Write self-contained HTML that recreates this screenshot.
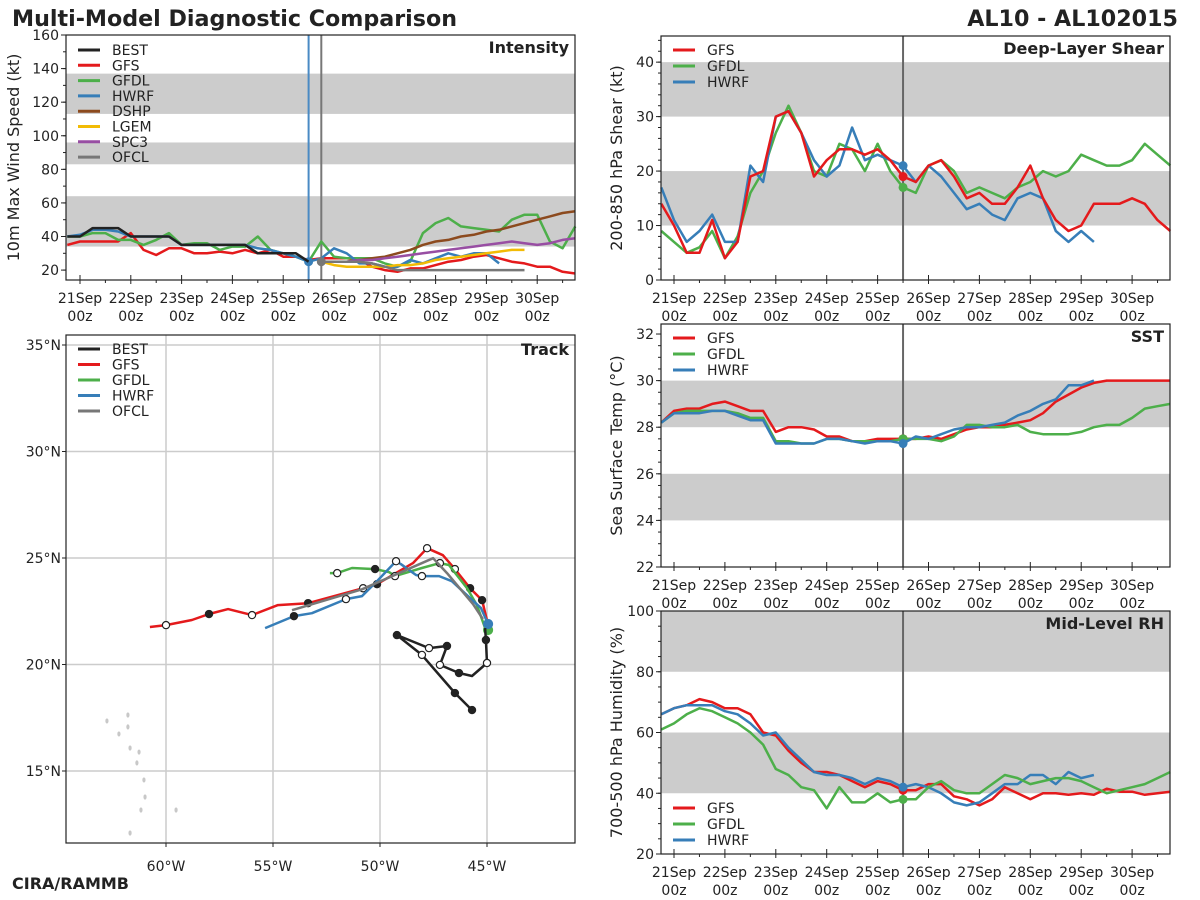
<!DOCTYPE html>
<html><head><meta charset="utf-8"><style>
body{margin:0;background:#fff;}
svg{display:block;font-family:"DejaVu Sans","Liberation Sans",sans-serif;}
</style></head><body>
<svg id="chart" width="1200" height="900" viewBox="0 0 1200 900" xmlns="http://www.w3.org/2000/svg">
<text x="12" y="26" font-size="22.2" font-weight="bold" fill="#222">Multi-Model Diagnostic Comparison</text>
<text x="1178" y="26" font-size="22.2" font-weight="bold" fill="#222" text-anchor="end">AL10 - AL102015</text>
<text x="12" y="889" font-size="16" font-weight="bold" fill="#222">CIRA/RAMMB</text>
</svg>
<script>
// ---------- data ----------
const dayLabels = ["21Sep","22Sep","23Sep","24Sep","25Sep","26Sep","27Sep","28Sep","29Sep","30Sep"];
const intTicks = [20,40,60,80,100,120,140,160];
const intBest = [40,40,45,45,45,40,40,40,40,35,35,35,35,35,35,30,30,30,30,25];
const intGfs = [35,37,37,37,37,42,32,29,33,33,30,30,31,30,32,30,32,28,28,26,27,27,27,26,22,20,19,21,21,23,25,26,28,29,27,25,24,22,22,19,18];
const intGfdl = [40,40,42,42,38,38,35,38,42,35,36,36,32,34,34,40,32,30,28,25,37,28,27,27,27,24,22,25,42,48,51,46,45,44,43,50,53,53,37,33,46];
const intHwrf = [40,41,44,44,43,40,40,40,40,35,35,35,35,35,35,33,32,30,28,25,27,33,30,24,24,22,22,26,24,27,30,28,30,30,24];
const intDshp = [25,25,25,26,27,28,30,32,35,37,38,40,41,43,44,46,48,50,52,54,55];
const intLgem = [25,23,22,22,22,22,23,23,24,26,27,28,29,30,31,32,32];
const intSpc3 = [25,25,25,26,26,27,28,29,30,31,32,33,34,35,36,37,36,35,36,38,39];
const intOfcl = [25,25,25,25,24,22,20,20,20,20,20,20,20,20,20,20,20];
const shrTicks = [0,10,20,30,40];
const shrGfs = [14,10,5,5,11,4,7,19,20,30,31,27,19,22,24,24,23,24,22,19,18,21,22,19,15,16,14,14,17,21,15,11,9,10,14,14,14,15,14,11,9];
const shrGfdl = [9,7,5,6,9,4,8,16,20,27,32,27,20,19,25,24,20,25,20,17,16,21,22,20,16,17,16,15,17,18,20,19,20,23,22,21,21,22,25,23,21];
const shrHwrf = [17,11,7,9,12,7,7,21,18,30,31,27,22,19,21,28,22,23,22,21,18,21,19,16,13,14,12,11,15,16,15,9,7,9,7];
const sstTicks = [22,24,26,28,30,32];
const sstGfs = [28.2,28.7,28.8,28.8,29.0,29.1,28.9,28.7,28.7,27.8,28.0,28.0,27.9,27.6,27.6,27.4,27.4,27.5,27.5,27.5,27.5,27.6,27.5,27.7,27.9,28.0,28.0,28.1,28.2,28.3,28.6,29.1,29.4,29.7,29.9,30.0,30.0,30.0,30.0,30.0,30.0];
const sstGfdl = [28.2,28.6,28.7,28.7,28.7,28.7,28.6,28.4,28.4,27.4,27.4,27.3,27.3,27.5,27.5,27.4,27.4,27.4,27.4,27.5,27.5,27.5,27.4,27.6,28.1,28.1,28.0,28.0,28.1,27.8,27.7,27.7,27.7,27.8,28.0,28.1,28.1,28.4,28.8,28.9,29.0];
const sstHwrf = [28.2,28.6,28.6,28.6,28.7,28.7,28.5,28.3,28.3,27.3,27.3,27.3,27.3,27.5,27.5,27.4,27.3,27.4,27.4,27.3,27.6,27.5,27.7,27.9,28.0,28.0,28.1,28.2,28.5,28.7,29.0,29.2,29.8,29.8,30.0];
const rhTicks = [20,40,60,80,100];
const rhGfs = [66,68,69,71,70,68,68,66,60,59,54,50,47,47,46,44,42,44,43,41,41,43,43,39,38,36,38,42,40,38,40,40,39.5,40,39.5,41.5,40.5,40.5,39.5,40,40.5];
const rhGfdl = [61,63,66,68,67,65,63,60,56,48,46,42,41,35,42,37,37,40,37,38,38,42,44,41,40,40,43,46,45,43,44,45,45,44,42,40,41,42,43,45,47];
const rhHwrf = [66,68,69,69,69,67,66,63,59,60,55,51,47,46,46,45,43,45,44,42,43,42,40,37,36,37,40,43,43,46,46,43,47,45,46];
const lonTicks = [-60,-55,-50,-45];
const latTicks = [15,20,25,30,35];
const trkBestLon = [-45.70,-46.50,-48.04,-49.21,-47.71,-46.87,-47.20,-46.31,-45.70,-45.00,-45.05,-45.09];
const trkBestLat = [17.86,18.66,20.45,21.38,20.77,20.87,19.98,19.60,19.46,20.07,21.15,21.71];
const trkBestMk = [1,1,2,1,2,1,2,1,0,2,1,0];
const trkGfsLon = [-60.75,-60.0,-58.79,-57.99,-57.1,-55.98,-54.77,-53.36,-50.79,-50.14,-48.46,-47.8,-47.06,-46.5,-45.79,-45.23,-44.95];
const trkGfsLat = [21.76,21.85,22.09,22.37,22.6,22.32,22.79,22.88,23.58,23.77,24.76,25.46,25.13,24.48,23.58,23.02,21.85];
const trkGfsMk = [0,2,0,1,0,2,0,1,2,1,0,2,0,2,1,1,0];
const trkGfdlLon = [-52.34,-52.0,-51.31,-50.23,-49.58,-49.3,-48.04,-47.2,-46.78,-45.93,-45.47,-45.09,-44.95];
const trkGfdlLat = [24.29,24.29,24.53,24.48,24.34,24.15,24.53,24.76,24.67,23.58,22.79,21.71,21.62];
const trkGfdlMk = [0,2,0,1,0,2,0,2,0,0,0,0,3];
const trkHwrfLon = [-55.37,-54.02,-53.18,-51.59,-50.84,-50.19,-49.25,-49.02,-48.32,-48.04,-47.24,-46.64,-45.93,-45.28,-44.95];
const trkHwrfLat = [21.71,22.27,22.41,23.07,23.21,23.86,24.85,24.71,24.20,24.15,24.15,23.91,23.25,22.65,21.90];
const trkHwrfMk = [0,1,0,2,0,0,2,0,0,2,0,0,0,0,3];
const trkOfclLon = [-54.11,-50.84,-47.52,-46.87,-45.65,-45.19];
const trkOfclLat = [22.55,23.53,24.99,24.29,22.83,22.13];
const islandLon = [-62.76,-61.78,-61.78,-62.2,-61.68,-61.26,-61.36,-61.03,-60.98,-61.17,-61.68,-59.53];
const islandLat = [17.35,17.63,17.07,16.74,16.08,15.89,15.38,14.58,13.78,13.17,12.09,13.17];

// ---------- helpers ----------
const NS = "http://www.w3.org/2000/svg";
const svg = document.getElementById('chart');
function el(tag, attrs, parent){ const e=document.createElementNS(NS,tag); for(const k in attrs) e.setAttribute(k,attrs[k]); (parent||svg).appendChild(e); return e; }
function txt(x,y,s,size,attrs){ const t=el('text',Object.assign({x:x,y:y,'font-size':size,fill:'#222'},attrs||{})); t.textContent=s; return t; }
const C = {best:'#222222',gfs:'#e41a1c',gfdl:'#4daf4a',hwrf:'#377eb8',dshp:'#8c4a1e',lgem:'#f2bb05',spc3:'#984ea3',ofcl:'#777777'};

function timePanel(p){
  const g = el('g',{});
  
  
  const sx = t => p.day0x + t*p.dayW;
  const sy = v => p.y1 - (v-p.ymin)/(p.ymax-p.ymin)*(p.y1-p.y0);
  el('rect',{x:p.x0,y:p.y0,width:p.x1-p.x0,height:p.y1-p.y0,fill:'#fff'},g);
  p.bands.forEach(b=>{ const r=el('rect',{x:p.x0,y:sy(b[1]),width:p.x1-p.x0,height:sy(b[0])-sy(b[1]),fill:'#cccccc'},g);
      });
  (p.vlines||[]).forEach(v=>{ const l=el('line',{x1:sx(v[0]),x2:sx(v[0]),y1:p.y0,y2:p.y1,stroke:v[1],'stroke-width':2},g);
      });
  p.series.forEach(s=>{
    const pts = s.v.map((v,i)=>sx(s.t0+i*0.25).toFixed(1)+','+sy(v).toFixed(1)).join(' ');
    const pl=el('polyline',{points:pts,fill:'none',stroke:s.c,'stroke-width':2.5,'stroke-linejoin':'round'},g);
     
    if(s.dot!==undefined){ const i=s.dot; const d=el('circle',{cx:sx(s.t0+i*0.25),cy:sy(s.v[i]),r:4.5,fill:s.c},g);
        }
  });
  el('rect',{x:p.x0,y:p.y0,width:p.x1-p.x0,height:p.y1-p.y0,fill:'none',stroke:'#222','stroke-width':1.2},g);
  p.ticks.forEach(v=>{ el('line',{x1:p.x0,x2:p.x0-5,y1:sy(v),y2:sy(v),stroke:'#222'},g);
    const t=txt(p.x0-7,sy(v)+5,String(v),14,{'text-anchor':'end'}); g.appendChild(t);
      });
  for(let v=Math.ceil(p.ymin/p.minor)*p.minor; v<=p.ymax; v+=p.minor){ el('line',{x1:p.x0,x2:p.x0-3,y1:sy(v),y2:sy(v),stroke:'#222'},g); }
  dayLabels.forEach((d,i)=>{ const x=sx(i); el('line',{x1:x,x2:x,y1:p.y1,y2:p.y1-5,stroke:'#222'},g); el('line',{x1:x,x2:x,y1:p.y1,y2:p.y1+4,stroke:'#222'},g);
    const a=txt(x,p.y1+23,d,14,{'text-anchor':'middle'}); g.appendChild(a);  
    const b=txt(x,p.y1+41,'00z',14,{'text-anchor':'middle'}); g.appendChild(b);   });
  for(let t=0.5;t<9.8;t+=1){ el('line',{x1:sx(t),x2:sx(t),y1:p.y1,y2:p.y1+3,stroke:'#222'},g); }
  const tt=txt(p.x1-6,p.y0+18,p.title,16,{'text-anchor':'end','font-weight':'bold'}); g.appendChild(tt);
   
  const yc=(p.y0+p.y1)/2;
  const yl=txt(p.ylx,yc,p.ylab,16,{'text-anchor':'middle',transform:`rotate(-90 ${p.ylx} ${yc})`}); g.appendChild(yl);
   
  legend(g,p.legend,p.x0+12,p.legendY,p.legStep||16);
}
function legend(g,items,x,y,step){
  items.forEach((it,i)=>{ const lg=el('g',{},g);
     
    el('line',{x1:x,x2:x+22,y1:y+i*step,y2:y+i*step,stroke:it[1],'stroke-width':3},lg);
    const t=txt(x+34,y+i*step+5,it[0],14,{}); lg.appendChild(t); });
}

timePanel({name:'intensity',x0:66,x1:575,y0:35,y1:280,ymin:14.1,ymax:160,day0x:80,dayW:50.8,
  bands:[[34,64],[83,96],[113,137]],ticks:intTicks,minor:10,title:'Intensity',ylab:'10m Max Wind Speed (kt)',ylx:19,
  vlines:[[4.5,'#4a8ac4'],[4.75,'#777']],
  series:[{n:'gfs',c:C.gfs,t0:-0.25,v:intGfs},{n:'gfdl',c:C.gfdl,t0:-0.25,v:intGfdl},{n:'hwrf',c:C.hwrf,t0:-0.25,v:intHwrf,dot:19},
    {n:'dshp',c:C.dshp,t0:4.75,v:intDshp},{n:'lgem',c:C.lgem,t0:4.75,v:intLgem},{n:'spc3',c:C.spc3,t0:4.75,v:intSpc3},
    {n:'ofcl',c:C.ofcl,t0:4.75,v:intOfcl,dot:0},{n:'best',c:C.best,t0:-0.25,v:intBest}],
  legend:[['BEST',C.best],['GFS',C.gfs],['GFDL',C.gfdl],['HWRF',C.hwrf],['DSHP',C.dshp],['LGEM',C.lgem],['SPC3',C.spc3],['OFCL',C.ofcl]],
  legendY:50,legStep:15.3});
timePanel({name:'shear',x0:661,x1:1170,y0:36,y1:280,ymin:0,ymax:44.8,day0x:674,dayW:50.9,
  bands:[[10,20],[30,40]],ticks:shrTicks,minor:2,title:'Deep-Layer Shear',ylab:'200-850 hPa Shear (kt)',ylx:622,
  vlines:[[4.5,'#666']],
  series:[{n:'gfdl',c:C.gfdl,t0:-0.25,v:shrGfdl,dot:19},{n:'hwrf',c:C.hwrf,t0:-0.25,v:shrHwrf,dot:19},{n:'gfs',c:C.gfs,t0:-0.25,v:shrGfs,dot:19}],
  legend:[['GFS',C.gfs],['GFDL',C.gfdl],['HWRF',C.hwrf]],legendY:50});
timePanel({name:'sst',x0:661,x1:1170,y0:324,y1:567,ymin:22,ymax:32.43,day0x:674,dayW:50.9,
  bands:[[24,26],[28,30]],ticks:sstTicks,minor:0.5,title:'SST',ylab:'Sea Surface Temp (°C)',ylx:622,
  vlines:[[4.5,'#666']],
  series:[{n:'gfs',c:C.gfs,t0:-0.25,v:sstGfs,dot:19},{n:'gfdl',c:C.gfdl,t0:-0.25,v:sstGfdl,dot:19},{n:'hwrf',c:C.hwrf,t0:-0.25,v:sstHwrf,dot:19}],
  legend:[['GFS',C.gfs],['GFDL',C.gfdl],['HWRF',C.hwrf]],legendY:338});
timePanel({name:'rh',x0:661,x1:1170,y0:611,y1:854,ymin:20,ymax:100,day0x:674,dayW:50.9,
  bands:[[40,60],[80,100]],ticks:rhTicks,minor:5,title:'Mid-Level RH',ylab:'700-500 hPa Humidity (%)',ylx:622,
  vlines:[[4.5,'#666']],
  series:[{n:'gfs',c:C.gfs,t0:-0.25,v:rhGfs,dot:19},{n:'hwrf',c:C.hwrf,t0:-0.25,v:rhHwrf,dot:19},{n:'gfdl',c:C.gfdl,t0:-0.25,v:rhGfdl,dot:19}],
  legend:[['GFS',C.gfs],['GFDL',C.gfdl],['HWRF',C.hwrf]],legendY:808});

(function(){
  const x0=66,x1=575,y0=335,y1=843;
  const g=el('g',{});
  
  
  const lx = lon => 166 + (lon+60)*21.4;
  const ly = lat => 771 - (lat-15)*21.3;
  el('rect',{x:x0,y:y0,width:x1-x0,height:y1-y0,fill:'#fff'},g);
  lonTicks.forEach(l=>{ const x=lx(l); el('line',{x1:x,x2:x,y1:y0,y2:y1,stroke:'#cccccc','stroke-width':1.5},g);
    el('line',{x1:x,x2:x,y1:y1,y2:y1+4,stroke:'#222'},g);
    const t=txt(x,y1+28,(-l)+'°W',14,{'text-anchor':'middle'}); g.appendChild(t);
      });
  latTicks.forEach(l=>{ const y=ly(l); el('line',{x1:x0,x2:x1,y1:y,y2:y,stroke:'#cccccc','stroke-width':1.5},g);
    el('line',{x1:x0,x2:x0-4,y1:y,y2:y,stroke:'#222'},g);
    const t=txt(x0-5,y+5,l+'°N',14,{'text-anchor':'end'}); g.appendChild(t);
      });
  islandLon.forEach((lo,i)=>{ const e=el('ellipse',{cx:lx(lo),cy:ly(islandLat[i]),rx:1.6,ry:2.6,fill:'#c8c8c8'},g);
      });
  function track(n,lon,lat,c,mk,w){
    const pts=lon.map((l,i)=>lx(l).toFixed(1)+','+ly(lat[i]).toFixed(1)).join(' ');
    const p=el('polyline',{points:pts,fill:'none',stroke:c,'stroke-width':w||2.5,'stroke-linejoin':'round'},g);
     
    if(mk) mk.forEach((m,i)=>{ if(!m) return;
      const d=el('circle',{cx:lx(lon[i]),cy:ly(lat[i]),r:m===3?4.5:3.6,fill:m===1?'#222':(m===3?c:'#fff'),stroke:m===3?c:'#222','stroke-width':1.2},g);
        });
  }
  track('gfs',trkGfsLon,trkGfsLat,C.gfs,trkGfsMk);
  track('gfdl',trkGfdlLon,trkGfdlLat,C.gfdl,trkGfdlMk);
  track('hwrf',trkHwrfLon,trkHwrfLat,C.hwrf,trkHwrfMk);
  track('ofcl',trkOfclLon,trkOfclLat,C.ofcl,null);
  track('best',trkBestLon,trkBestLat,C.best,trkBestMk);
  el('rect',{x:x0,y:y0,width:x1-x0,height:y1-y0,fill:'none',stroke:'#222','stroke-width':1.2},g);
  const tt=txt(x1-6,y0+20,'Track',16,{'text-anchor':'end','font-weight':'bold'}); g.appendChild(tt);
   
  legend(g,[['BEST',C.best],['GFS',C.gfs],['GFDL',C.gfdl],['HWRF',C.hwrf],['OFCL',C.ofcl]],78,349,15.5);
})();
</script>
</body></html>
